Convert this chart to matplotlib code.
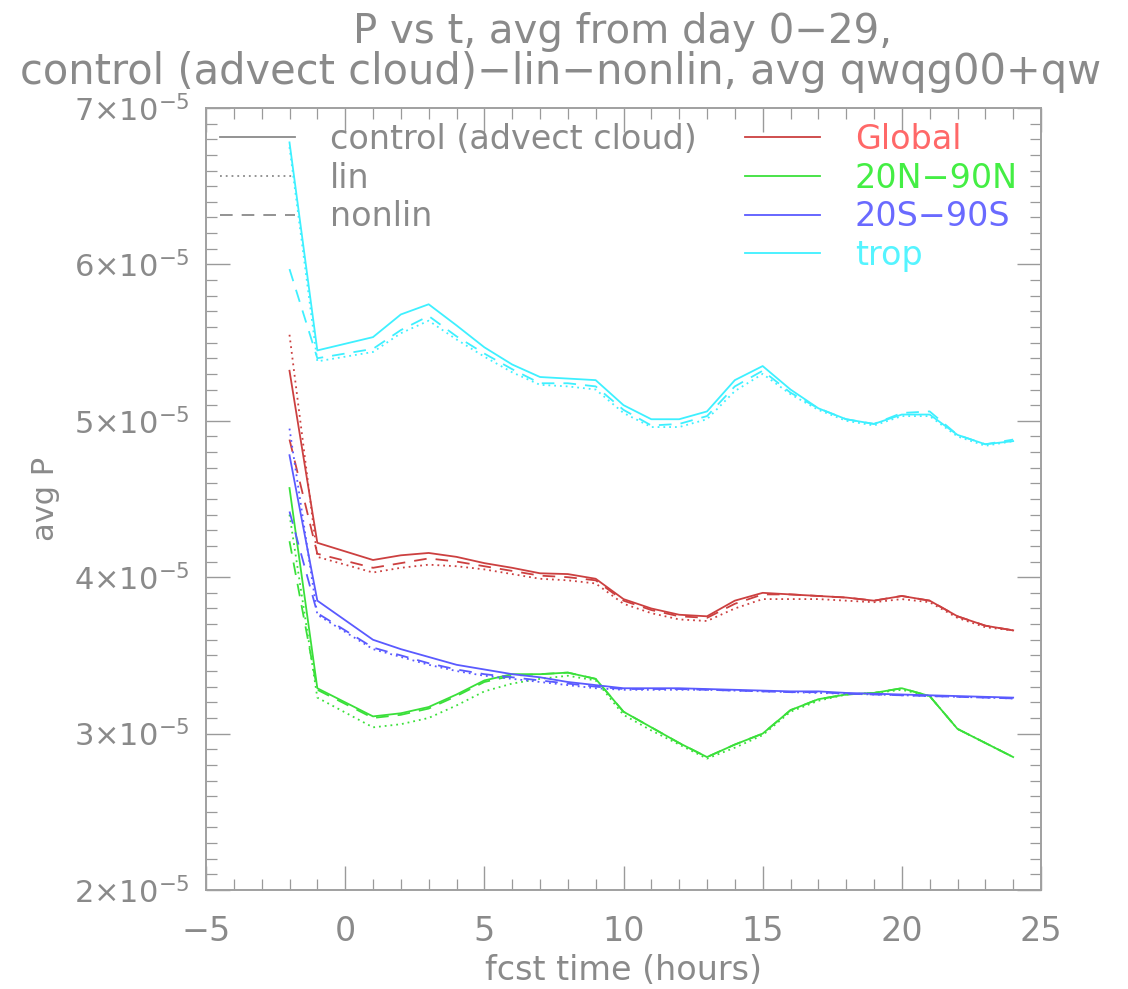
import matplotlib
matplotlib.use("Agg")
import matplotlib.pyplot as plt
from matplotlib.lines import Line2D
from matplotlib.ticker import MultipleLocator, FixedLocator, FixedFormatter
import numpy as np

# ---------------- data (values in units of 1e-5) ----------------
hours = [-2, -1, 1, 2, 3, 4, 5, 6, 7, 8, 9, 10, 11, 12, 13, 14, 15, 16, 17, 18, 19, 20, 21, 22, 23, 24]

global_control = [5.32, 4.22, 4.11, 4.14, 4.155, 4.13, 4.09, 4.06, 4.025, 4.02, 3.99, 3.86, 3.80, 3.76, 3.75, 3.85, 3.90, 3.89, 3.88, 3.87, 3.85, 3.88, 3.85, 3.75, 3.69, 3.66]
global_lin     = [5.55, 4.13, 4.03, 4.06, 4.08, 4.07, 4.05, 4.02, 3.99, 3.98, 3.96, 3.83, 3.77, 3.73, 3.72, 3.80, 3.86, 3.86, 3.86, 3.85, 3.84, 3.86, 3.84, 3.74, 3.68, 3.66]
global_nonlin  = [4.88, 4.15, 4.06, 4.09, 4.12, 4.10, 4.07, 4.04, 4.01, 4.00, 3.98, 3.85, 3.79, 3.75, 3.74, 3.83, 3.89, 3.89, 3.88, 3.87, 3.85, 3.88, 3.85, 3.75, 3.69, 3.66]

nh_control = [4.57, 3.29, 3.11, 3.13, 3.17, 3.25, 3.34, 3.38, 3.38, 3.39, 3.35, 3.14, 3.04, 2.94, 2.85, 2.93, 3.00, 3.15, 3.22, 3.25, 3.26, 3.29, 3.24, 3.03, 2.94, 2.85]
nh_lin     = [4.40, 3.23, 3.04, 3.06, 3.10, 3.18, 3.27, 3.32, 3.35, 3.37, 3.34, 3.12, 3.02, 2.93, 2.84, 2.91, 2.99, 3.14, 3.21, 3.25, 3.26, 3.28, 3.24, 3.03, 2.94, 2.85]
nh_nonlin  = [4.23, 3.28, 3.10, 3.12, 3.16, 3.24, 3.33, 3.37, 3.38, 3.39, 3.35, 3.14, 3.04, 2.94, 2.85, 2.93, 3.00, 3.15, 3.22, 3.25, 3.26, 3.29, 3.24, 3.03, 2.94, 2.85]

sh_control = [4.78, 3.85, 3.60, 3.54, 3.49, 3.44, 3.41, 3.38, 3.36, 3.33, 3.31, 3.29, 3.29, 3.29, 3.285, 3.28, 3.275, 3.27, 3.27, 3.26, 3.255, 3.25, 3.245, 3.24, 3.235, 3.23]
sh_lin     = [4.95, 3.76, 3.54, 3.49, 3.44, 3.40, 3.37, 3.35, 3.33, 3.31, 3.29, 3.28, 3.28, 3.28, 3.28, 3.275, 3.27, 3.265, 3.26, 3.255, 3.25, 3.245, 3.24, 3.235, 3.23, 3.225]
sh_nonlin  = [4.42, 3.77, 3.55, 3.50, 3.45, 3.41, 3.38, 3.36, 3.34, 3.32, 3.30, 3.285, 3.285, 3.285, 3.28, 3.275, 3.27, 3.265, 3.265, 3.255, 3.25, 3.245, 3.24, 3.235, 3.23, 3.225]

trop_control = [6.78, 5.45, 5.535, 5.68, 5.745, 5.61, 5.47, 5.36, 5.28, 5.27, 5.26, 5.10, 5.01, 5.01, 5.06, 5.26, 5.35, 5.20, 5.08, 5.01, 4.98, 5.04, 5.04, 4.91, 4.85, 4.87]
trop_lin     = [6.75, 5.38, 5.44, 5.56, 5.64, 5.52, 5.41, 5.31, 5.23, 5.22, 5.20, 5.05, 4.96, 4.96, 5.01, 5.19, 5.30, 5.17, 5.07, 5.00, 4.97, 5.03, 5.03, 4.90, 4.84, 4.87]
trop_nonlin  = [5.97, 5.40, 5.46, 5.58, 5.67, 5.54, 5.43, 5.33, 5.24, 5.24, 5.22, 5.07, 4.97, 4.98, 5.03, 5.22, 5.32, 5.18, 5.08, 5.01, 4.98, 5.05, 5.06, 4.91, 4.85, 4.88]

scale = 1e-5
region_names = ["Global", "20N\u221290N", "20S\u221290S", "trop"]
experiment_names = ["control (advect cloud)", "lin", "nonlin"]
yticks_vals = [2, 3, 4, 5, 6, 7]
xticks_vals = [-5, 0, 5, 10, 15, 20, 25]
title_line1 = "P vs t, avg from day 0\u221229,"
title_line2 = "control (advect cloud)\u2212lin\u2212nonlin, avg qwqg00+qw"

series = {
    "Global": (global_control, global_lin, global_nonlin),
    "20N\u221290N": (nh_control, nh_lin, nh_nonlin),
    "20S\u221290S": (sh_control, sh_lin, sh_nonlin),
    "trop": (trop_control, trop_lin, trop_nonlin),
}

# ---------------- style ----------------
colors = {"Global": "#cc4040", "20N\u221290N": "#3ae03a", "20S\u221290S": "#5a5aff", "trop": "#3ef0ff"}
text_colors = {"Global": "#ff6868", "20N\u221290N": "#44ee44", "20S\u221290S": "#6a6aff", "trop": "#55f4ff"}
styles = ["-", (0, (1, 2.2)), (0, (7, 5))]
grey = "#8a8a8a"

plt.rcParams["font.family"] = ["DejaVu Sans"]
plt.rcParams["mathtext.fontset"] = "dejavusans"

fig = plt.figure(figsize=(11.28, 9.89), dpi=100)
ax = fig.add_axes([206 / 1128, 1 - 890 / 989, 835 / 1128, 782 / 989])

for reg in region_names:
    for vals, ls in zip(series[reg], styles):
        ax.plot(hours, np.array(vals) * scale, color=colors[reg], linestyle=ls, lw=1.3)

ax.set_xlim(-5, 25)
ax.set_ylim(2e-5, 7e-5)

ax.xaxis.set_major_locator(FixedLocator(xticks_vals))
ax.xaxis.set_minor_locator(MultipleLocator(1))
ax.yaxis.set_major_locator(FixedLocator([v * scale for v in yticks_vals]))
ax.yaxis.set_major_formatter(FixedFormatter([r"$\mathregular{%d{\times}10^{-5}}$" % v for v in yticks_vals]))
ax.yaxis.set_minor_locator(MultipleLocator(1e-6))
ax.set_xticklabels([("\u2212%d" % -v) if v < 0 else str(v) for v in xticks_vals])

ax.tick_params(which="both", direction="in", top=True, right=True, color="#9a9a9a",
               labelcolor=grey)
ax.tick_params(axis="x", labelsize=24)
ax.tick_params(axis="y", labelsize=22)
ax.tick_params(which="major", length=17, width=1.0, pad=18)
ax.tick_params(which="minor", length=8, width=0.9)
ax.tick_params(axis="y", which="major", pad=12)
for s in ax.spines.values():
    s.set_color("#a0a0a0")
    s.set_linewidth(1.4)

ax.set_xlabel("fcst time (hours)", color=grey, fontsize=24, labelpad=4)
ax.set_ylabel("avg P", color=grey, fontsize=22, labelpad=10)

fig.text(0.552, 0.968, title_line1, ha="center", va="center", color=grey, fontsize=29)
fig.text(20 / 1128, 0.927, title_line2, ha="left", va="center", color=grey, fontsize=30)

# legends
fs_leg = 24
h1 = [Line2D([], [], color=grey, linestyle=ls, lw=1.3) for ls in styles]
leg1 = ax.legend(h1, experiment_names, loc="upper left", bbox_to_anchor=(0.0168, 0.981),
                 frameon=False, fontsize=fs_leg, handlelength=2.25, handletextpad=1.05,
                 labelspacing=0.17, borderpad=0, borderaxespad=0, labelcolor=grey)
ax.add_artist(leg1)
h2 = [Line2D([], [], color=colors[r], lw=1.3) for r in region_names]
leg2 = ax.legend(h2, region_names, loc="upper left", bbox_to_anchor=(0.6455, 0.981),
                 frameon=False, fontsize=fs_leg, handlelength=2.25, handletextpad=1.05,
                 labelspacing=0.17, borderpad=0, borderaxespad=0)
for t, r in zip(leg2.get_texts(), region_names):
    t.set_color(text_colors[r])

fig.savefig("out.png", dpi=100)
